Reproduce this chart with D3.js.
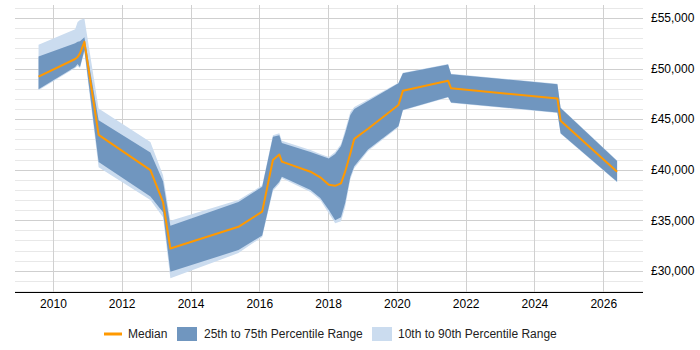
<!DOCTYPE html>
<html>
<head>
<meta charset="utf-8">
<script src="https://cdn.jsdelivr.net/npm/d3@7"></script>
<style>
  body { margin: 0; background: #fff; }
  text { font-family: "Liberation Sans", Arial, sans-serif; }
</style>
</head>
<body>
<svg class="chart" width="700" height="350"></svg>
<script>
var dates = ["2009-08-01", "2010-08-25", "2010-09-20", "2010-10-15", "2010-12-01", "2011-05-01",
  "2012-11-01", "2013-03-15", "2013-06-01", "2015-05-25", "2016-02-01", "2016-05-25", "2016-08-01",
  "2016-08-28", "2017-06-28", "2017-10-10", "2018-01-08", "2018-03-17", "2018-05-18", "2018-07-01",
  "2018-08-25", "2018-10-06", "2019-03-01", "2020-01-18", "2020-03-05", "2021-06-28", "2021-07-30",
  "2024-09-01", "2024-10-05", "2026-05-28"]
var median = [49200, 50950, 51150, 51500, 52650, 43450, 39950, 36800, 32200, 34350, 35850, 40950, 41500,
  40800, 39800, 39250, 38500, 38400, 38650, 39800, 41600, 43050, 44050, 46400, 47800, 48800, 48050,
  47050, 44850, 39800]
var p25 = [47950, 50150, 50450, 50150, 51850, 40750, 37350, 35800, 29900, 32050, 33500, 38100, 38800,
  39300, 38000, 37200, 36000, 35000, 35300, 36700, 39300, 40350, 42000, 44300, 45900, 47200, 46650,
  45650, 43600, 38800]
var p75 = [51200, 52500, 52650, 52700, 53100, 44900, 41700, 38850, 34450, 36800, 38300, 43250, 43400,
  42650, 41750, 41400, 41100, 41550, 42350, 43600, 45400, 46000, 46800, 48550, 49550, 50400, 49450,
  48450, 46100, 40850]
var p10 = [47850, 50050, 50250, 50050, 51650, 40250, 37000, 35300, 29250, 31750, 33350, 37900, 38600,
  39150, 37800, 37000, 35700, 34700, 34900, 36300, 39050, 40150, 41850, 44200, 45850, 47150, 46600,
  45600, 43550, 38750]
var p90 = [52350, 53900, 54600, 54800, 54950, 46050, 42750, 39450, 34950, 37000, 38450, 43400, 43600,
  42850, 41950, 41550, 41250, 41750, 42550, 43900, 45700, 46200, 46950, 48600, 49600, 50450, 49500,
  48500, 46150, 40900]
var yearTicks = [2010, 2012, 2014, 2016, 2018, 2020, 2022, 2024, 2026]
var salaryTicks = [30000, 35000, 40000, 45000, 50000, 55000]
var legendLabels = ["Median", "25th to 75th Percentile Range", "10th to 90th Percentile Range"]

var parseDate = d3.timeParse("%Y-%m-%d")
var data = dates.map(function(d, i) {
  return {date: parseDate(d), med: median[i], lo: p25[i], hi: p75[i], lo10: p10[i], hi90: p90[i]}
})

var plot = {left: 15, right: 643, top: 5, bottom: 292}

var x = d3.scaleTime()
  .domain([new Date(2008, 10, 24), new Date(2027, 1, 27)])
  .range([plot.left, plot.right])
var y = d3.scaleLinear()
  .domain([27900, 56290])
  .range([plot.bottom, plot.top])

var svg = d3.select(".chart")

// grid
var minor = d3.range(28000, 56001, 1000).filter(function(v) { return v % 5000 !== 0 })
svg.append("g").selectAll("line")
  .data(minor)
  .enter().append("line")
    .attr("x1", plot.left).attr("x2", plot.right)
    .attr("y1", function(d) { return Math.round(y(d)) + 0.5 })
    .attr("y2", function(d) { return Math.round(y(d)) + 0.5 })
    .attr("stroke", "#e8e8e8")

svg.append("g").selectAll("line")
  .data(salaryTicks)
  .enter().append("line")
    .attr("x1", plot.left).attr("x2", plot.right)
    .attr("y1", function(d) { return Math.round(y(d)) + 0.5 })
    .attr("y2", function(d) { return Math.round(y(d)) + 0.5 })
    .attr("stroke", "#cfcfcf")

svg.append("g").selectAll("line")
  .data(yearTicks)
  .enter().append("line")
    .attr("x1", function(d) { return Math.round(x(new Date(d, 0, 1))) + 0.5 })
    .attr("x2", function(d) { return Math.round(x(new Date(d, 0, 1))) + 0.5 })
    .attr("y1", plot.top).attr("y2", plot.bottom)
    .attr("stroke", "#d0d0d0")

// bands
var band = function(lo, hi) {
  return d3.area()
    .x(function(d) { return x(d.date) })
    .y0(function(d) { return y(d[lo]) })
    .y1(function(d) { return y(d[hi]) })
}

svg.append("path")
  .datum(data)
  .attr("fill", "#cbdcef")
  .attr("d", band("lo10", "hi90"))

svg.append("path")
  .datum(data)
  .attr("fill", "#7096bf")
  .attr("d", band("lo", "hi"))

var line = d3.line()
  .x(function(d) { return x(d.date) })
  .y(function(d) { return y(d.med) })

svg.append("path")
  .datum(data)
  .attr("fill", "none")
  .attr("stroke", "#ff9900")
  .attr("stroke-width", 2)
  .attr("stroke-linejoin", "round")
  .attr("d", line)

// axes
var xAxis = svg.append("g")
  .attr("transform", "translate(0," + plot.bottom + ")")
  .call(d3.axisBottom(x)
    .tickValues(yearTicks.map(function(d) { return new Date(d, 0, 1) }))
    .tickFormat(d3.timeFormat("%Y"))
    .tickSize(0)
    .tickPadding(7))
xAxis.select(".domain").attr("stroke", "#000").attr("d", "M" + plot.left + ",0.5H" + plot.right)
xAxis.selectAll("text").attr("font-size", 12).attr("fill", "#000")
  .attr("font-family", "'Liberation Sans', Arial, sans-serif")

var fmt = d3.format(",")
var yAxis = svg.append("g")
  .attr("transform", "translate(" + (plot.right + 2) + ",0)")
  .call(d3.axisRight(y)
    .tickValues(salaryTicks)
    .tickFormat(function(d) { return "£" + fmt(d) })
    .tickSize(0)
    .tickPadding(6))
yAxis.select(".domain").remove()
yAxis.selectAll("text").attr("font-size", 12).attr("fill", "#000")
  .attr("font-family", "'Liberation Sans', Arial, sans-serif")

// legend
var legend = svg.append("g").attr("transform", "translate(0,334)")
legend.append("line")
  .attr("x1", 104).attr("x2", 122)
  .attr("stroke", "#ff9900").attr("stroke-width", 3)
legend.append("rect")
  .attr("x", 177).attr("y", -7).attr("width", 20).attr("height", 14)
  .attr("fill", "#7096bf")
legend.append("rect")
  .attr("x", 372).attr("y", -7).attr("width", 20).attr("height", 14)
  .attr("fill", "#cbdcef")
legend.selectAll("text")
  .data(legendLabels)
  .enter().append("text")
    .attr("x", function(d, i) { return [128, 204, 398][i] })
    .attr("dy", "0.35em")
    .attr("font-size", 12)
    .attr("fill", "#222")
    .text(function(d) { return d })
</script>
</body>
</html>
